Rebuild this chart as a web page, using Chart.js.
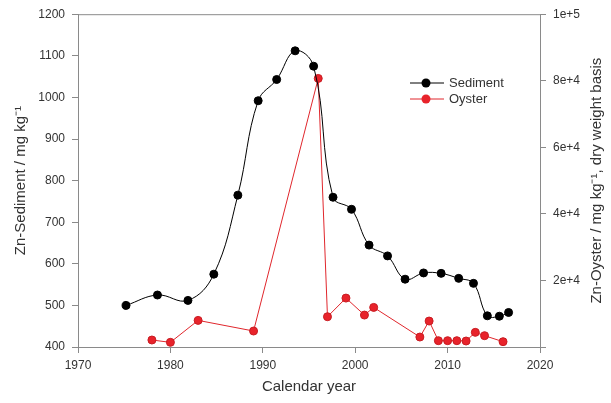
<!DOCTYPE html>
<html>
<head>
<meta charset="utf-8">
<script src="https://cdn.jsdelivr.net/npm/chart.js@4.4.0/dist/chart.umd.min.js"></script>
<style>
  html, body { margin: 0; padding: 0; background: #fff; }
  #wrap { width: 611px; height: 403px; }
</style>
</head>
<body>
<div id="wrap"><canvas id="znChart"></canvas></div>
<script>
// Sediment core (left axis, mg/kg)
var sedimentYears = [1975.2, 1978.6, 1981.9, 1984.7, 1987.3, 1989.5, 1991.5, 1993.5, 1995.5, 1997.6,
                     1999.6, 2001.5, 2003.5, 2005.4, 2007.4, 2009.3, 2011.2, 2012.8, 2014.3, 2015.6, 2016.6];
var sedimentZn = [500, 525, 512, 575, 765, 992, 1043, 1112, 1075, 760,
                  731, 645, 619, 563, 578, 577, 565, 553, 475, 474, 483];

// Oyster tissue (right axis, mg/kg dry weight)
var oysterYears = [1978, 1980, 1983, 1989, 1996, 1997, 1999, 2001, 2002, 2007,
                   2008, 2009, 2010, 2011, 2012, 2013, 2014, 2016];
var oysterZn = [2100, 1400, 8000, 4800, 80700, 9100, 14700, 9600, 11900, 3000,
                7800, 1900, 1900, 1900, 1800, 4400, 3400, 1600];

var axisGray = "#8a8a8a";
var textGray = "#333333";

function pairs(xs, ys) {
    return xs.map(function(x, i) { return { x: x, y: ys[i] }; });
}

// frame top line, custom legend and right-hand title
var extras = {
    id: 'extras',
    afterDraw: function(chart) {
        var ctx = chart.ctx;
        var a = chart.chartArea;
        ctx.save();
        ctx.strokeStyle = axisGray;
        ctx.lineWidth = 1;
        ctx.beginPath();
        ctx.moveTo(a.left, a.top + 0.5);
        ctx.lineTo(a.right, a.top + 0.5);
        ctx.stroke();

        var items = [
            { label: "Sediment", line: "#000000", fill: "#000000", y: 83 },
            { label: "Oyster", line: "#e0262c", fill: "#e8232b", y: 99 }
        ];
        items.forEach(function(it) {
            ctx.strokeStyle = it.line;
            ctx.lineWidth = 1;
            ctx.beginPath();
            ctx.moveTo(410, it.y);
            ctx.lineTo(444, it.y);
            ctx.stroke();
            ctx.fillStyle = it.fill;
            ctx.beginPath();
            ctx.arc(426, it.y, 4.5, 0, Math.PI * 2);
            ctx.fill();
            ctx.fillStyle = textGray;
            ctx.font = "13px 'Liberation Sans', Arial, sans-serif";
            ctx.textBaseline = "middle";
            ctx.textAlign = "left";
            ctx.fillText(it.label, 449, it.y);
        });

        ctx.translate(597, (a.top + a.bottom) / 2);
        ctx.rotate(-Math.PI / 2);
        ctx.font = "15px 'Liberation Sans', Arial, sans-serif";
        ctx.fillStyle = textGray;
        ctx.textAlign = "center";
        ctx.textBaseline = "middle";
        ctx.fillText("Zn-Oyster / mg kg\u207B\u00B9, dry weight basis", 0, 0);
        ctx.restore();
    }
};

var ctx = document.getElementById("znChart");
var znChart = new Chart(ctx, {
    type: 'line',
    data: {
        datasets: [{
            label: "Sediment",
            data: pairs(sedimentYears, sedimentZn),
            yAxisID: 'y',
            borderColor: "#000000",
            borderWidth: 1,
            backgroundColor: "#000000",
            pointBackgroundColor: "#000000",
            pointBorderColor: "#000000",
            pointRadius: 4,
            tension: 0.4
        }, {
            label: "Oyster",
            data: pairs(oysterYears, oysterZn),
            yAxisID: 'y2',
            borderColor: "#e0262c",
            borderWidth: 1,
            backgroundColor: "#e8232b",
            pointBackgroundColor: "#e8232b",
            pointBorderColor: "#c81c22",
            pointBorderWidth: 1,
            pointRadius: 4,
            tension: 0
        }]
    },
    options: {
        responsive: true,
        maintainAspectRatio: false,
        animation: false,
        layout: { padding: { top: 14, left: 0, right: 0, bottom: 0 } },
        plugins: {
            legend: { display: false },
            tooltip: { enabled: false }
        },
        scales: {
            x: {
                type: 'linear',
                min: 1970,
                max: 2020,
                afterFit: function(axis) { axis.height = 56; },
                ticks: {
                    stepSize: 10,
                    color: textGray,
                    padding: 5,
                    font: { family: "'Liberation Sans', Arial, sans-serif", size: 12 },
                    callback: function(v) { return String(v); }
                },
                grid: { drawOnChartArea: false, tickLength: 6, color: axisGray },
                border: { color: axisGray },
                title: {
                    display: true,
                    text: "Calendar year",
                    color: textGray,
                    padding: { top: 0, bottom: 7 },
                    font: { family: "'Liberation Sans', Arial, sans-serif", size: 15 }
                }
            },
            y: {
                position: 'left',
                min: 400,
                max: 1200,
                afterFit: function(axis) { axis.width = 78; },
                ticks: {
                    stepSize: 100,
                    color: textGray,
                    padding: 7,
                    font: { family: "'Liberation Sans', Arial, sans-serif", size: 12 },
                    callback: function(v) { return String(v); }
                },
                grid: { drawOnChartArea: false, tickLength: 6, color: axisGray },
                border: { color: axisGray },
                title: {
                    display: true,
                    text: "Zn-Sediment / mg kg\u207B\u00B9",
                    color: textGray,
                    padding: { top: 12, bottom: 0 },
                    font: { family: "'Liberation Sans', Arial, sans-serif", size: 15 }
                }
            },
            y2: {
                position: 'right',
                min: 0,
                max: 100000,
                afterFit: function(axis) { axis.width = 71; },
                ticks: {
                    stepSize: 20000,
                    color: textGray,
                    padding: 7,
                    font: { family: "'Liberation Sans', Arial, sans-serif", size: 12 },
                    callback: function(v) { return v === 0 ? "" : v.toExponential(); }
                },
                grid: { drawOnChartArea: false, tickLength: 6, color: axisGray },
                border: { color: axisGray },
                title: { display: false }
            }
        }
    },
    plugins: [extras]
});
</script>
</body>
</html>
